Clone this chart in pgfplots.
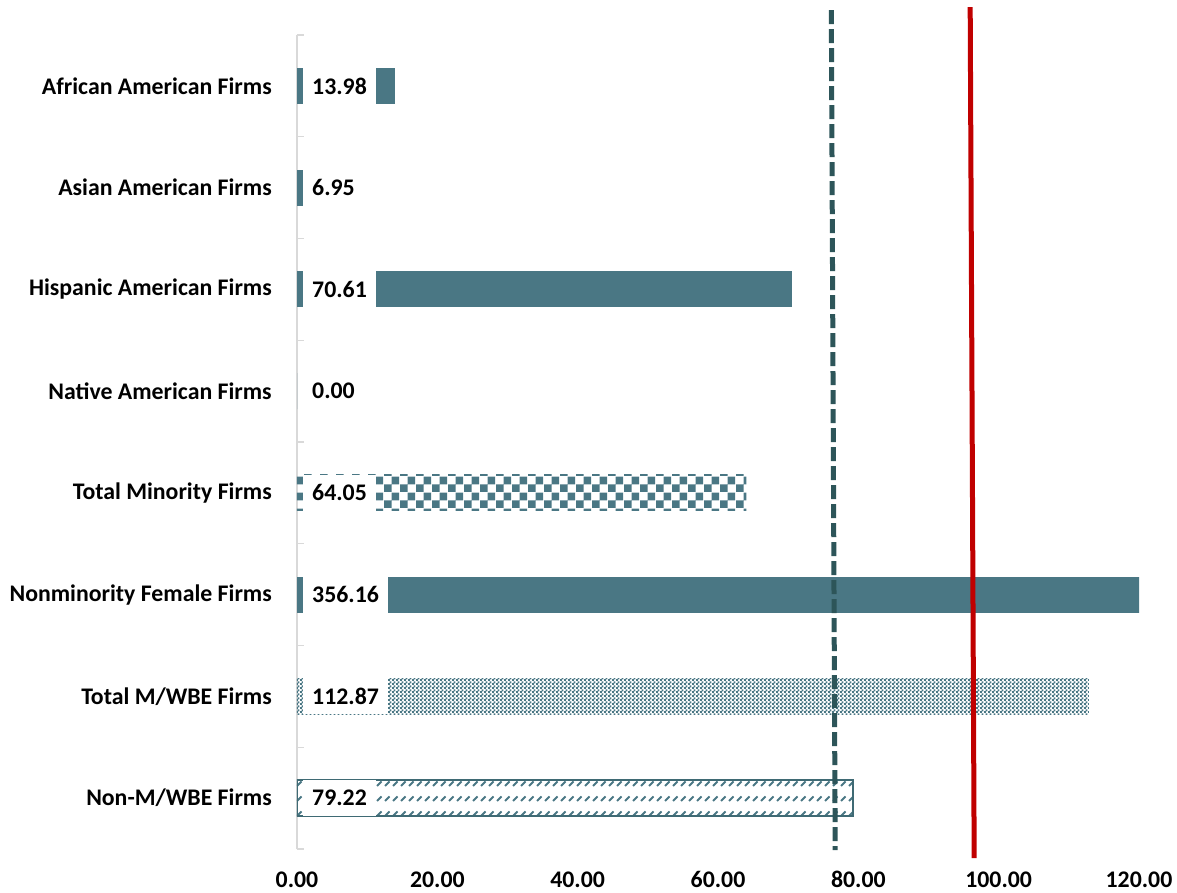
\documentclass[border=0pt]{standalone}
\usepackage{fontspec}
\setmainfont{Carlito}
\usepackage{pgfplots}
\pgfplotsset{compat=1.18}
\usetikzlibrary{patterns}

\definecolor{barteal}{HTML}{4A7784}
\definecolor{edgeteal}{HTML}{3F6A74}
\definecolor{lineslate}{HTML}{2D5559}
\definecolor{axisgray}{HTML}{D9D9D9}
\definecolor{refred}{HTML}{C00000}

% large checkerboard
\pgfdeclarepatternformonly{bigchecker}{\pgfqpoint{0pt}{0pt}}{\pgfqpoint{16pt}{16pt}}{\pgfqpoint{16pt}{16pt}}{%
  \pgfpathrectangle{\pgfqpoint{0pt}{0pt}}{\pgfqpoint{8pt}{8pt}}%
  \pgfpathrectangle{\pgfqpoint{8pt}{8pt}}{\pgfqpoint{8pt}{8pt}}%
  \pgfusepath{fill}}
% small checkerboard
\pgfdeclarepatternformonly{smallchecker}{\pgfqpoint{0pt}{0pt}}{\pgfqpoint{4pt}{4pt}}{\pgfqpoint{4pt}{4pt}}{%
  \pgfpathrectangle{\pgfqpoint{0pt}{0pt}}{\pgfqpoint{2.3pt}{2.3pt}}%
  \pgfpathrectangle{\pgfqpoint{2pt}{2pt}}{\pgfqpoint{2.3pt}{2.3pt}}%
  \pgfusepath{fill}}
% dashed upward diagonal
\pgfdeclarepatternformonly{dashhatch}{\pgfqpoint{-1pt}{-1pt}}{\pgfqpoint{9pt}{16pt}}{\pgfqpoint{8pt}{15pt}}{%
  \pgfsetlinewidth{1.8pt}%
  \pgfpathmoveto{\pgfqpoint{1pt}{1pt}}%
  \pgfpathlineto{\pgfqpoint{5.5pt}{5.5pt}}%
  \pgfusepath{stroke}}

\begin{document}
\begin{tikzpicture}
\path[use as bounding box] (-297pt,-43pt) rectangle (880pt,849pt);
\pgfplotsset{
  common/.style={at={(0,0)}, anchor=south west, scale only axis,
    width=842pt, height=814pt,
    xmin=0, xmax=120, ymin=-0.5, ymax=7.5},
}
\begin{axis}[common,
  axis lines*=left,
  x axis line style={draw=none},
  y axis line style={axisgray, line width=1.3pt},
  xtick={0,20,...,120},
  xticklabels={0.00,20.00,40.00,60.00,80.00,100.00,120.00},
  xtick style={draw=none},
  ytick={0,...,7},
  yticklabels={Non-M/WBE Firms, Total M/WBE Firms, Nonminority Female Firms,
    Total Minority Firms, Native American Firms, Hispanic American Firms,
    Asian American Firms, African American Firms},
  major tick length=0pt,
  minor ytick={-0.5,0.5,...,7.5},
  minor tick length=7pt,
  tick align=inside,
  minor tick style={axisgray, line width=1.3pt},
  ticklabel style={font=\fontsize{23.8}{28}\selectfont\bfseries, inner sep=0pt, text=black},
  yticklabel style={xshift=-25pt},
  xticklabel style={anchor=north, text height=15pt, text depth=0pt, yshift=-23pt},
  bar width=36pt, bar shift=0pt,
]
\addplot[xbar, fill=barteal, draw=none] coordinates {(13.98,7)};
\addplot[xbar, fill=barteal, draw=none] coordinates {(6.95,6)};
\addplot[xbar, fill=barteal, draw=none] coordinates {(70.61,5)};
\addplot[xbar, fill=barteal, draw=none] coordinates {(0,4)};
\addplot[xbar, draw=none, pattern=bigchecker, pattern color=barteal] coordinates {(64.05,3)};
\addplot[xbar, fill=barteal, draw=none] coordinates {(356.16,2)};
\addplot[xbar, draw=none, pattern=smallchecker, pattern color=barteal] coordinates {(112.87,1)};
\addplot[xbar, draw=edgeteal, line width=2pt, pattern=dashhatch, pattern color=barteal] coordinates {(79.22,0)};

% value labels sitting at the base of each bar
\addplot[draw=none, mark=none, nodes near coords, point meta=explicit symbolic,
  nodes near coords align=horizontal,
  every node near coord/.append style={anchor=west, fill=white, text=black,
    inner xsep=9pt, inner ysep=0pt, minimum height=36pt,
    font=\fontsize{23.8}{28}\selectfont\bfseries}]
  table[meta=lab] {
x y lab
0.86 7 13.98
0.86 6 6.95
0.86 5 70.61
0.86 4 0.00
0.86 3 64.05
0.86 2 356.16
0.86 1 112.87
0.86 0 79.22
};
\end{axis}

% reference lines
\begin{axis}[common, hide axis, clip=false]
\addplot[lineslate, line width=5pt, dash pattern=on 14pt off 5pt] coordinates {(76.15,7.745) (76.70,-0.51)};
\addplot[refred, line width=5pt] coordinates {(95.94,7.775) (96.51,-0.59)};
\end{axis}
\end{tikzpicture}
\end{document}
